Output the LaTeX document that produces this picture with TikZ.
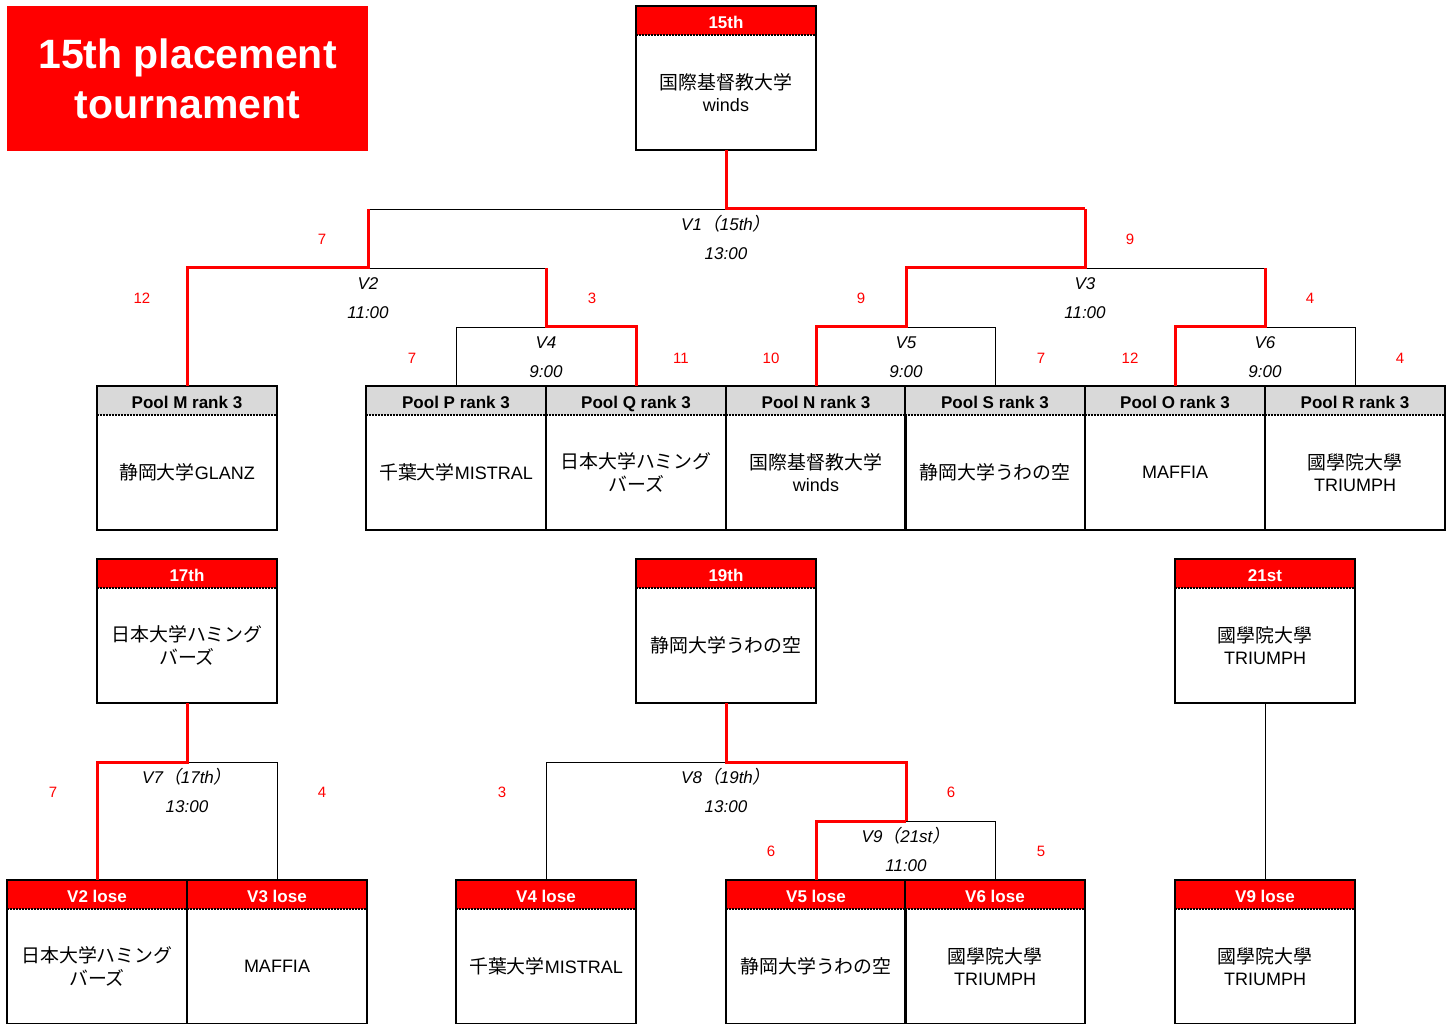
\documentclass[tikz,border=0pt]{standalone}
\usepackage{fontspec}
\setmainfont{Liberation Sans}
\newfontfamily\jp{Noto Sans CJK JP}[Scale=1.05,AutoFakeSlant=0.2]
\usetikzlibrary{positioning,calc}
\definecolor{tred}{RGB}{255,0,0}
\definecolor{hgray}{RGB}{217,217,217}
\newcommand{\ja}[1]{{\jp #1}}
% one box: header node + body node, dotted rule, frame
\newcommand{\teambox}[5]{%
  \node[#3] (#1h) at #2 {#4};
  \node[body, below=0pt of #1h] (#1) {#5};
  \draw[sep] (#1h.south west) -- (#1h.south east);
  \draw[frame] (#1h.north west) rectangle (#1.south east);
}

\begin{document}
\begin{tikzpicture}[x=1pt,y=-1pt,
  hdr/.style={minimum width=180pt, minimum height=29pt, inner sep=0pt, outer sep=0pt,
    text height=16pt, text depth=0pt, font=\fontsize{17}{20}\selectfont\bfseries},
  poolhdr/.style={hdr, fill=hgray},
  redhdr/.style={hdr, fill=tred, text=white},
  body/.style={minimum width=180pt, minimum height=115pt, inner sep=0pt, outer sep=0pt,
    align=center, font=\fontsize{18}{22.5}\selectfont},
  sep/.style={line width=1.5pt, dash pattern=on 1.5pt off 1.5pt},
  frame/.style={line width=2.2pt},
  win/.style={tred, line width=3pt},
  lose/.style={line width=0.9pt},
  game/.style={font=\fontsize{17}{20}\selectfont\itshape, inner sep=0pt},
  score/.style={text=tred, font=\fontsize{15}{18}\selectfont, inner sep=0pt}]
  \useasboundingbox (0,0) rectangle (1452,1024);

  \node[fill=tred, text=white, minimum width=361pt, minimum height=145pt, inner sep=0pt,
    align=center, font=\fontsize{41}{50}\selectfont\bfseries] (ttl) at (187.5,78.5)
    {15th placement\\tournament};

  % game centres
  \coordinate (v1) at (726,209);
  \coordinate (v2) at (368,268);
  \coordinate (v3) at (1085,268);
  \coordinate (v4) at (546,327);
  \coordinate (v5) at (906,327);
  \coordinate (v6) at (1265,327);
  \coordinate (v7) at (187,762);
  \coordinate (v8) at (726,762);
  \coordinate (v9) at (906,821);

  % boxes
  \teambox{t15}{(726,20.5)}{redhdr}{15th}{\ja{国際基督教大学}\\winds}
  \teambox{pM}{(187,400.5)}{poolhdr}{Pool M rank 3}{\ja{静岡大学}GLANZ}
  \teambox{pP}{(456,400.5)}{poolhdr}{Pool P rank 3}{\ja{千葉大学}MISTRAL}
  \teambox{pQ}{(636,400.5)}{poolhdr}{Pool Q rank 3}{\ja{日本大学ハミング}\\\ja{バーズ}}
  \teambox{pN}{(816,400.5)}{poolhdr}{Pool N rank 3}{\ja{国際基督教大学}\\winds}
  \teambox{pS}{(995,400.5)}{poolhdr}{Pool S rank 3}{\ja{静岡大学うわの空}}
  \teambox{pO}{(1175,400.5)}{poolhdr}{Pool O rank 3}{MAFFIA}
  \teambox{pR}{(1355,400.5)}{poolhdr}{Pool R rank 3}{\ja{國學院大學}\\TRIUMPH}
  \teambox{t17}{(187,573.5)}{redhdr}{17th}{\ja{日本大学ハミング}\\\ja{バーズ}}
  \teambox{t19}{(726,573.5)}{redhdr}{19th}{\ja{静岡大学うわの空}}
  \teambox{t21}{(1265,573.5)}{redhdr}{21st}{\ja{國學院大學}\\TRIUMPH}
  \teambox{l2}{(97,894.5)}{redhdr}{V2 lose}{\ja{日本大学ハミング}\\\ja{バーズ}}
  \teambox{l3}{(277,894.5)}{redhdr}{V3 lose}{MAFFIA}
  \teambox{l4}{(546,894.5)}{redhdr}{V4 lose}{\ja{千葉大学}MISTRAL}
  \teambox{l5}{(816,894.5)}{redhdr}{V5 lose}{\ja{静岡大学うわの空}}
  \teambox{l6}{(995,894.5)}{redhdr}{V6 lose}{\ja{國學院大學}\\TRIUMPH}
  \teambox{l9}{(1265,894.5)}{redhdr}{V9 lose}{\ja{國學院大學}\\TRIUMPH}

  % brackets, losing side
  \draw[lose] (v1 -| v2) -- (v1);
  \draw[lose] (v2) -- (v2 -| v4);
  \draw[lose] (v3) -- (v3 -| v6);
  \draw[lose] (v4) -| (pPh.north);
  \draw[lose] (v5) -| (pSh.north);
  \draw[lose] (v6) -| (pRh.north);
  \draw[lose] (v7) -| (l3h.north);
  \draw[lose] (v8) -| (l4h.north);
  \draw[lose] (v9) -| (l6h.north);
  \draw[lose] (t21.south) -- (l9h.north);
  % brackets, winning side
  \draw[win] (t15.south) -- (v1) -- (v1 -| v3);
  \draw[win] (pMh.north) |- (v2) -- (v2 |- v1);
  \draw[win] (pQh.north) |- (v4) -- (v4 |- v2);
  \draw[win] (pNh.north) |- (v5) |- (v3) -- (v3 |- v1);
  \draw[win] (pOh.north) |- (v6) -- (v6 |- v3);
  \draw[win] (t17.south) -- (v7) -| (l2h.north);
  \draw[win] (t19.south) -- (v8) -| (v9);
  \draw[win] (l5h.north) |- (v9);

  % game labels
  \node[game] (g1) at (726,224) {V1\ja{（}15th\ja{）}};
  \node[game] (g1t) at (726,254) {13:00};
  \node[game] (g2) at (368,284) {V2};
  \node[game] (g2t) at (368,313) {11:00};
  \node[game] (g3) at (1085,284) {V3};
  \node[game] (g3t) at (1085,313) {11:00};
  \node[game] (g4) at (546,343) {V4};
  \node[game] (g4t) at (546,372) {9:00};
  \node[game] (g5) at (906,343) {V5};
  \node[game] (g5t) at (906,372) {9:00};
  \node[game] (g6) at (1265,343) {V6};
  \node[game] (g6t) at (1265,372) {9:00};
  \node[game] (g7) at (187,777) {V7\ja{（}17th\ja{）}};
  \node[game] (g7t) at (187,807) {13:00};
  \node[game] (g8) at (726,777) {V8\ja{（}19th\ja{）}};
  \node[game] (g8t) at (726,807) {13:00};
  \node[game] (g9) at (906,836) {V9\ja{（}21st\ja{）}};
  \node[game] (g9t) at (906,866) {11:00};

  % scores
  \node[score] (s1a) at (322,239) {7};
  \node[score] (s1b) at (1130,239) {9};
  \node[score] (s2a) at (142,298) {12};
  \node[score] (s2b) at (592,298) {3};
  \node[score] (s3a) at (861,298) {9};
  \node[score] (s3b) at (1310,298) {4};
  \node[score] (s4a) at (412,358) {7};
  \node[score] (s4b) at (681,358) {11};
  \node[score] (s5a) at (771,358) {10};
  \node[score] (s5b) at (1041,358) {7};
  \node[score] (s6a) at (1130,358) {12};
  \node[score] (s6b) at (1400,358) {4};
  \node[score] (s7a) at (53,792) {7};
  \node[score] (s7b) at (322,792) {4};
  \node[score] (s8a) at (502,792) {3};
  \node[score] (s8b) at (951,792) {6};
  \node[score] (s9a) at (771,851) {6};
  \node[score] (s9b) at (1041,851) {5};
\end{tikzpicture}
\end{document}
